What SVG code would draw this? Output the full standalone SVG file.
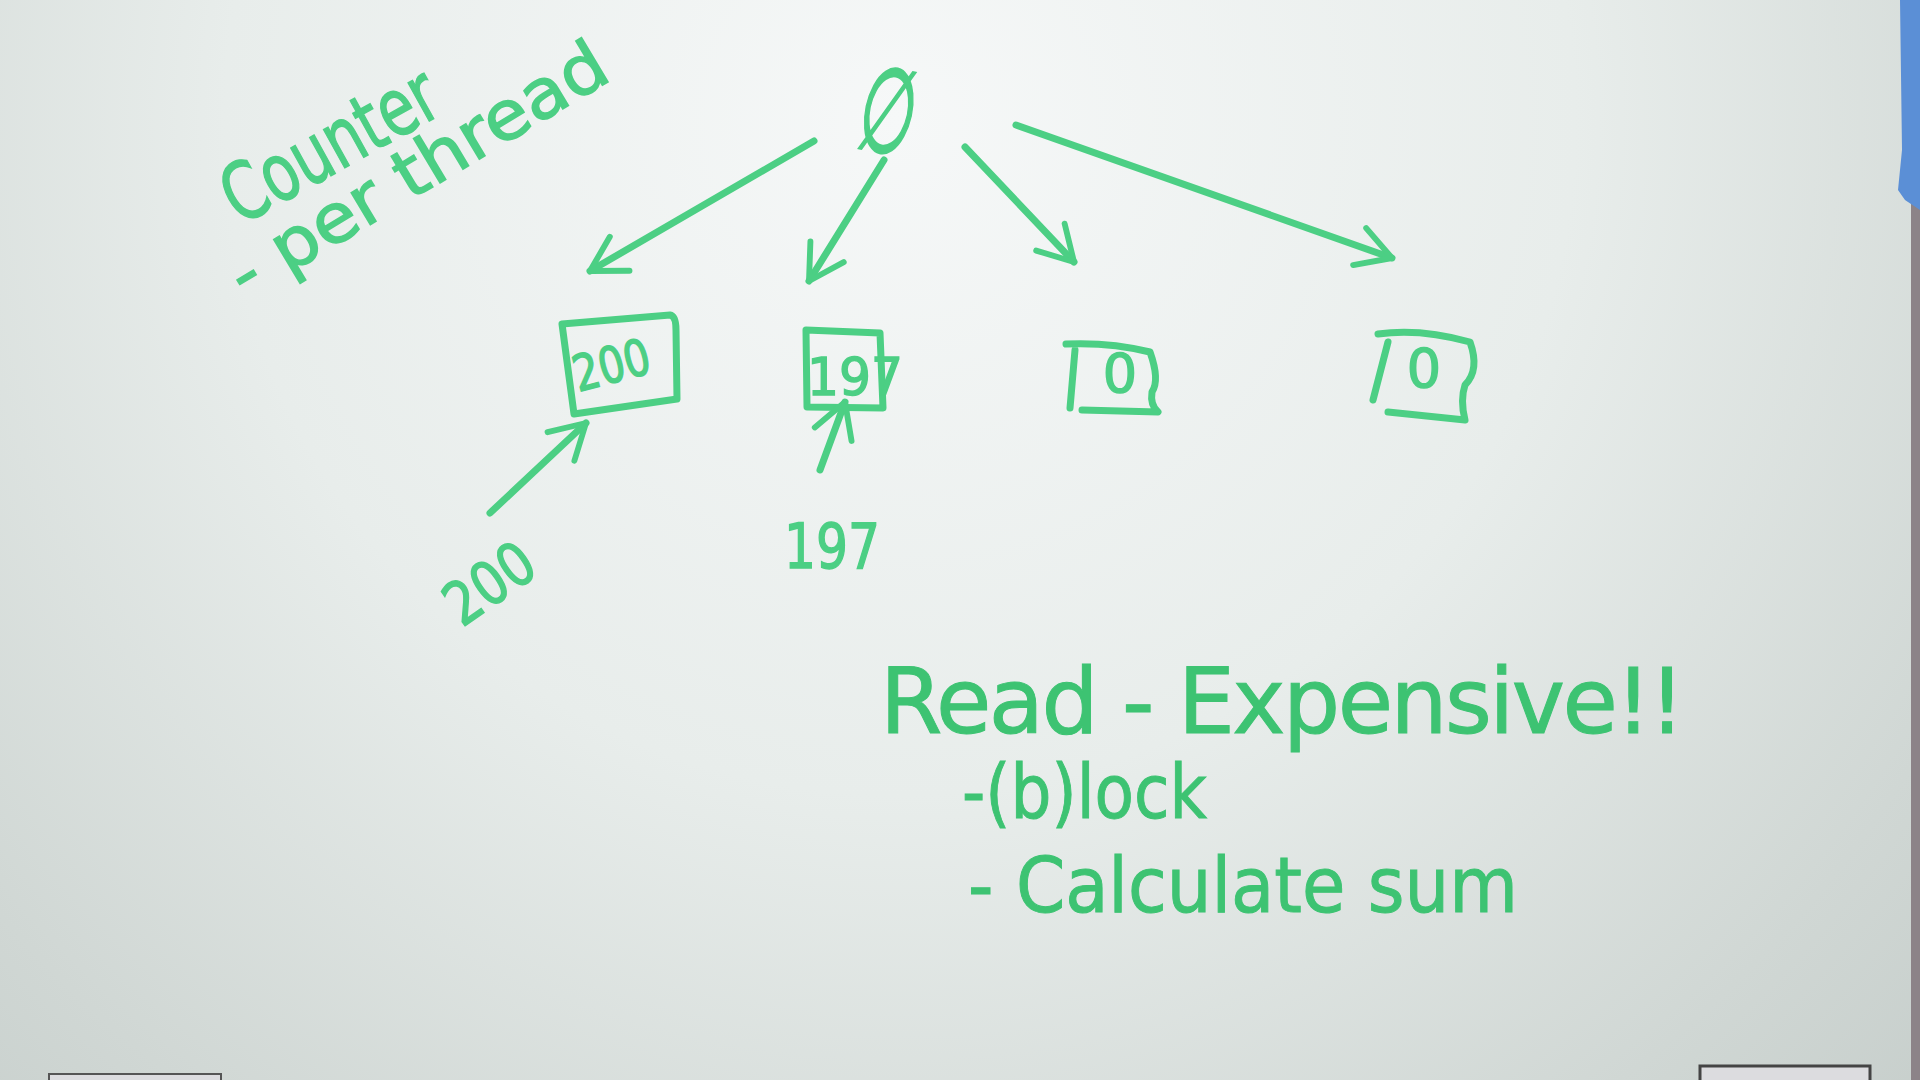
<svg xmlns="http://www.w3.org/2000/svg" width="1920" height="1080" viewBox="0 0 1920 1080">
<defs>
<radialGradient id="bg" cx="900" cy="120" r="1500" gradientUnits="userSpaceOnUse">
<stop offset="0" stop-color="#f6f8f8"/>
<stop offset="0.45" stop-color="#e8edeb"/>
<stop offset="0.8" stop-color="#d0d7d4"/>
<stop offset="1" stop-color="#c4ccc9"/>
</radialGradient>
<marker id="head" viewBox="0 0 20 20" refX="17" refY="10" markerWidth="7" markerHeight="7" orient="auto" markerUnits="strokeWidth">
<path d="M3,2 L17,10 L3,18" fill="none" stroke="#4ccf84" stroke-width="2.4" stroke-linecap="round" stroke-linejoin="round"/>
</marker>
<style>
.ink{fill:none;stroke:#4ccf84;stroke-width:7;stroke-linecap:round;stroke-linejoin:round}
.txt{font-family:"DejaVu Sans","Liberation Sans",sans-serif;fill:#4ccf84;stroke:#4ccf84;stroke-width:1.5;font-weight:normal}
.txt2{font-family:"DejaVu Sans","Liberation Sans",sans-serif;fill:#3dc372;stroke:#3dc372;stroke-width:1;font-weight:normal}
</style>
</defs>
<rect width="1920" height="1080" fill="url(#bg)"/>
<rect x="1911" y="200" width="9" height="880" fill="#8c8388"/>
<path d="M1900,0 L1920,0 L1920,210 L1905,200 L1898,190 L1902,150 Z" fill="#5b8fd6"/>
<rect x="49" y="1074" width="172" height="8" fill="#dcdcdf" stroke="#555" stroke-width="2"/>
<rect x="1700" y="1066" width="170" height="16" fill="#dcdcdf" stroke="#444" stroke-width="3"/>

<g id="note-counter">
<text class="txt" font-size="80" transform="translate(240,226) rotate(-29)" textLength="235" lengthAdjust="spacingAndGlyphs">Counter</text>
<text class="txt" font-size="68" transform="translate(245,300) rotate(-31)" textLength="430" lengthAdjust="spacingAndGlyphs">- per thread</text>
</g>

<g id="root">
<text class="txt" font-size="80" text-anchor="middle" transform="translate(880,152) rotate(12) scale(0.8,1.5)">∅</text>
</g>

<g id="counter1">
<path class="ink" d="M562,324 L670,315 Q676,316 676,330 L677,399 L574,414 Z"/>
<text class="txt" font-size="50" font-weight="bold" transform="translate(616,382) rotate(-15)" text-anchor="middle" textLength="78" lengthAdjust="spacingAndGlyphs">200</text>
</g>
<g id="counter2">
<path class="ink" d="M806,330 L880,333 L883,408 L807,407 Z"/>
<text class="txt" font-size="52" x="855" y="395" text-anchor="middle" textLength="96" lengthAdjust="spacingAndGlyphs">197</text>
</g>
<g id="counter3">
<path class="ink" d="M1066,344 Q1110,342 1150,352 Q1160,380 1152,392 Q1150,405 1158,412 L1082,410 M1075,350 L1070,408"/>
<text class="txt" font-size="54" x="1120" y="392" text-anchor="middle">0</text>
</g>
<g id="counter4">
<path class="ink" d="M1378,334 Q1420,328 1470,342 Q1480,370 1465,385 Q1460,400 1465,420 L1388,412 M1388,342 L1373,400"/>
<text class="txt" font-size="54" x="1424" y="387" text-anchor="middle">0</text>
</g>

<g id="label200">
<text class="txt" font-size="60" transform="translate(462,628) rotate(-35)" textLength="96" lengthAdjust="spacingAndGlyphs">200</text>
</g>
<g id="label197">
<text class="txt" font-size="62" x="832" y="568" text-anchor="middle" textLength="96" lengthAdjust="spacingAndGlyphs">197</text>
</g>

<g id="connectors">
<line class="ink" x1="814" y1="141" x2="590" y2="271" marker-end="url(#head)"/>
<line class="ink" x1="884" y1="160" x2="809" y2="281" marker-end="url(#head)"/>
<line class="ink" x1="965" y1="147" x2="1074" y2="262" marker-end="url(#head)"/>
<line class="ink" x1="1016" y1="125" x2="1392" y2="258" marker-end="url(#head)"/>
<line class="ink" x1="490" y1="513" x2="586" y2="423" marker-end="url(#head)"/>
<line class="ink" x1="820" y1="470" x2="845" y2="402" marker-end="url(#head)"/>
</g>

<g id="note-read">
<text class="txt2" font-size="90" x="880" y="733" textLength="805" lengthAdjust="spacing">Read - Expensive!!</text>
<text class="txt2" font-size="74" x="962" y="818" textLength="245" lengthAdjust="spacingAndGlyphs">-(b)lock</text>
<text class="txt2" font-size="76" x="968" y="912" textLength="550" lengthAdjust="spacingAndGlyphs">- Calculate sum</text>
</g>
</svg>
